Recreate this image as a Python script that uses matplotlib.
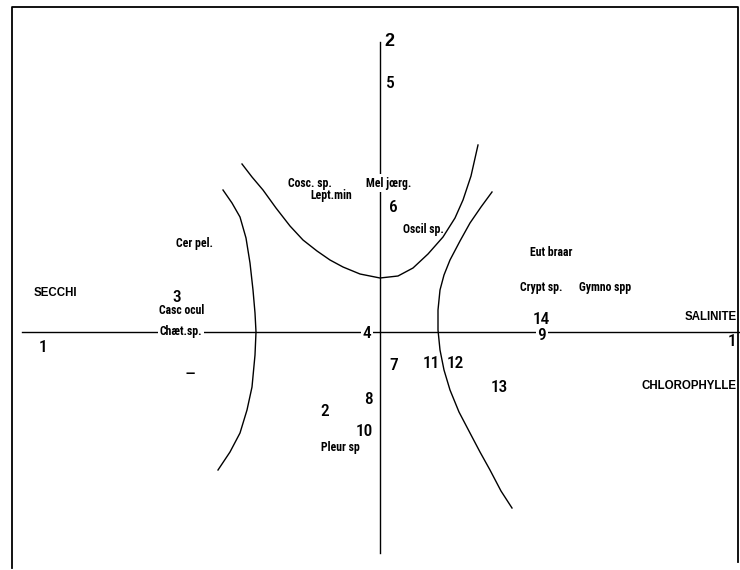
import numpy as np
import matplotlib
matplotlib.use("Agg")
import matplotlib.pyplot as plt

# plane 1-2 of the ordination, origin where the two axes cross
# station numbers
stn_labels = ["1", "3", "4", "5", "6", "7", "8", "2", "10", "11", "12", "13", "14", "9", "1"]
stn_x = [-3.37, -2.03, -0.13, 0.10, 0.13, 0.14, -0.12, -0.55, -0.16, 0.51, 0.75, 1.19, 1.61, 1.62, 3.52]
stn_y = [-0.16, 0.35, -0.01, 2.48, 1.24, -0.33, -0.67, -0.80, -1.00, -0.32, -0.31, -0.56, 0.13, -0.04, -0.09]

# species
sp_labels = ["Cosc. sp.", "Lept.min", "Mel jœrg.", "Oscil sp.", "Cer pel.", "Casc ocul",
             "Chæt.sp.", "Eut braar", "Crypt sp.", "Gymno spp", "Pleur sp"]
sp_x = [-0.70, -0.49, 0.09, 0.43, -1.85, -1.98, -1.99, 1.71, 1.61, 2.25, -0.40]
sp_y = [1.49, 1.37, 1.49, 1.03, 0.88, 0.21, 0.01, 0.80, 0.45, 0.45, -1.15]

# environmental variables
var_labels = ["SECCHI", "SALINITE", "CHLOROPHYLLE"]
var_x = [-3.25, 3.05, 2.62]
var_y = [0.39, 0.15, -0.54]

# hand drawn group boundaries
top_x = [-1.38, -1.28, -1.17, -1.04, -0.90, -0.77, -0.63, -0.50, -0.37, -0.20, 0.00,
         0.18, 0.33, 0.48, 0.63, 0.75, 0.83, 0.91, 0.98]
top_y = [1.68, 1.55, 1.42, 1.24, 1.06, 0.92, 0.81, 0.72, 0.65, 0.58, 0.54,
         0.56, 0.64, 0.78, 0.95, 1.14, 1.32, 1.56, 1.87]
left_x = [-1.57, -1.48, -1.40, -1.34, -1.30, -1.27, -1.25, -1.24, -1.25, -1.28, -1.33, -1.40, -1.50, -1.62]
left_y = [1.42, 1.29, 1.15, 0.94, 0.69, 0.42, 0.19, 0.00, -0.23, -0.55, -0.78, -1.01, -1.20, -1.38]
right_x = [1.12, 1.01, 0.90, 0.80, 0.70, 0.64, 0.60, 0.58, 0.58, 0.60, 0.64, 0.70, 0.79,
           0.90, 1.00, 1.10, 1.21, 1.32]
right_y = [1.40, 1.25, 1.09, 0.91, 0.72, 0.57, 0.42, 0.22, 0.02, -0.18, -0.38, -0.58, -0.80,
           -1.01, -1.20, -1.38, -1.59, -1.76]

# extent of axes lines and of the frame
haxis = [-3.58, 3.60]
vaxis = [2.90, -2.21]
frame_x = [-3.68, -3.68, 3.58, 3.58]
frame_y = [-2.36, 3.25, 3.25, -2.30]

narrow = ["Roboto Condensed", "DejaVu Sans"]
plain = ["Liberation Sans", "DejaVu Sans"]

fig = plt.figure(figsize=(7.4, 5.7), dpi=100)
ax = fig.add_axes([0, 0, 1, 1])
ax.set_xlim(-3.80, 3.60)
ax.set_ylim(-2.38, 3.32)
ax.axis("off")

ax.plot(frame_x, frame_y, color="black", lw=1.3)
ax.plot(haxis, [0, 0], color="black", lw=1.0)
ax.plot([0, 0], vaxis, color="black", lw=1.0)

for cx, cy in [(top_x, top_y), (left_x, left_y), (right_x, right_y)]:
    ax.plot(cx, cy, color="black", lw=1.0)

white = dict(facecolor="white", edgecolor="none", pad=1.5)

for lab, x, y in zip(stn_labels, stn_x, stn_y):
    bb = white if lab in ("4", "14", "9") else None
    ax.text(x, y, lab, family=narrow, fontsize=12.5, fontweight="medium",
            ha="center", va="center", bbox=bb, zorder=3)

for lab, x, y in zip(sp_labels, sp_x, sp_y):
    bb = white if lab in ("Chæt.sp.", "Mel jœrg.") else None
    ax.text(x, y, lab, family=narrow, fontsize=8.5, fontweight="bold",
            ha="center", va="center", bbox=bb, zorder=3)

for lab, x, y in zip(var_labels, var_x, var_y):
    ha = "center" if lab == "SECCHI" else "left"
    ax.text(x, y, lab, family=plain, fontsize=8.3, fontweight="bold", ha=ha, va="center")

# axis number
ax.text(0.04, vaxis[0], "2", family=plain, fontsize=13, fontweight="bold", ha="left", va="center")
ax.text(-1.90, -0.41, "–", family=plain, fontsize=12, fontweight="bold", ha="center", va="center")

fig.savefig("out.png", dpi=100)
